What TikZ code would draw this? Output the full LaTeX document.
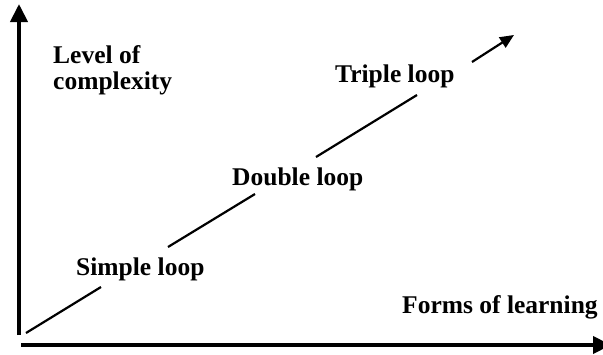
\documentclass[tikz,border=0pt]{standalone}
\usepackage{fontspec}
\setmainfont{Liberation Serif}
\usetikzlibrary{arrows.meta}
\tikzset{
  axisln/.style={line width=4pt, -{Triangle[length=18pt, width=17pt]}},
  diag/.style  ={line width=2.2pt},
  diagtip/.style={line width=2.2pt, -{Triangle[length=14pt, width=12pt]}},
  lab/.style   ={font=\fontsize{25.5}{26}\selectfont\bfseries, inner sep=0pt, anchor=base west},
}
\begin{document}
\begin{tikzpicture}[x=1pt, y=-1pt]
  \useasboundingbox (0,0) rectangle (603,354);
  % axes
  \coordinate (o) at (19,345);
  \coordinate (ytop) at (19,4);
  \coordinate (xend) at (611,345);
  \draw[axisln] (19,335) -- (ytop);
  \draw[axisln] (21,345) -- (xend);
  % diagonal, broken by the labels
  \coordinate (s0) at (26,333);  \coordinate (s1) at (101,287);
  \coordinate (s2) at (168,247); \coordinate (s3) at (255,194);
  \coordinate (s4) at (316,157); \coordinate (s5) at (417,95);
  \coordinate (s6) at (472,62);  \coordinate (s7) at (514,35);
  \draw[diag] (s0) -- (s1);
  \draw[diag] (s2) -- (s3);
  \draw[diag] (s4) -- (s5);
  \draw[diagtip] (s6) -- (s7);
  % labels
  \node[lab] (lvl) at (53,63) {Level of};
  \node[lab] (cpx) at (53,89) {complexity};
  \node[lab] (simple) at (76,275) {Simple loop};
  \node[lab] (double) at (232,185) {Double loop};
  \node[lab] (triple) at (335,82) {Triple loop};
  \node[lab] (forms) at (402,313) {Forms of learning};
\end{tikzpicture}
\end{document}
